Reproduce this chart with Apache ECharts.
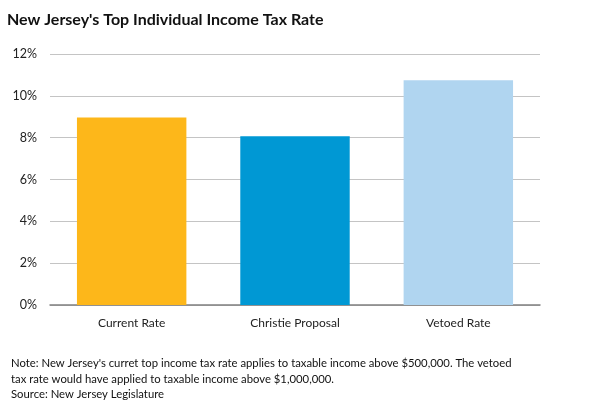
<!DOCTYPE html>
<html><head><meta charset="utf-8">
<script src="https://cdn.jsdelivr.net/npm/echarts@6/dist/echarts.min.js"></script>
<style>html,body{margin:0;padding:0;background:#fff}#c{width:603px;height:402px}</style>
</head><body><div id="c"></div>
<script>
const categories = ['Current Rate', 'Christie Proposal', 'Vetoed Rate'];
const rates = [8.97, 8.07, 10.75];
const barColors = ['#FDB71A', '#0098D4', '#B0D5F0'];
const titleText = "New Jersey's Top Individual Income Tax Rate";
const noteLines = [
  "Note: New Jersey's curret top income tax rate applies to taxable income above $500,000. The vetoed",
  "tax rate would have applied to taxable income above $1,000,000.",
  "Source: New Jersey Legislature"
];
const chart = echarts.init(document.getElementById('c'));
chart.setOption({
  animation: false,
  textStyle: { fontFamily: 'Lato' },
  title: [
    { text: titleText, left: 2, top: 7, textStyle: { fontFamily: 'Lato', fontWeight: 'bold', fontSize: 16, color: '#111' } },
    { text: noteLines.join('\n'), left: 6, top: 351, textStyle: { fontFamily: 'Lato', fontWeight: 'normal', fontSize: 11.3, lineHeight: 15.3, color: '#111' } }
  ],
  grid: { left: 50, right: 63, top: 54, bottom: 97 },
  xAxis: {
    type: 'category', data: categories,
    axisTick: { show: false },
    axisLine: { lineStyle: { color: '#808080', width: 1.5 } },
    axisLabel: { fontSize: 12, color: '#222', margin: 12 }
  },
  yAxis: {
    type: 'value', min: 0, max: 12, interval: 2,
    axisLabel: { formatter: '{value}%', fontSize: 12.5, color: '#222', margin: 13 },
    splitLine: { lineStyle: { color: '#c4c4c4' } },
    axisLine: { show: false }, axisTick: { show: false }
  },
  series: [{
    type: 'bar', barWidth: '67%',
    data: rates.map((v, i) => ({ value: v, itemStyle: { color: barColors[i] } }))
  }]
});
</script></body></html>
